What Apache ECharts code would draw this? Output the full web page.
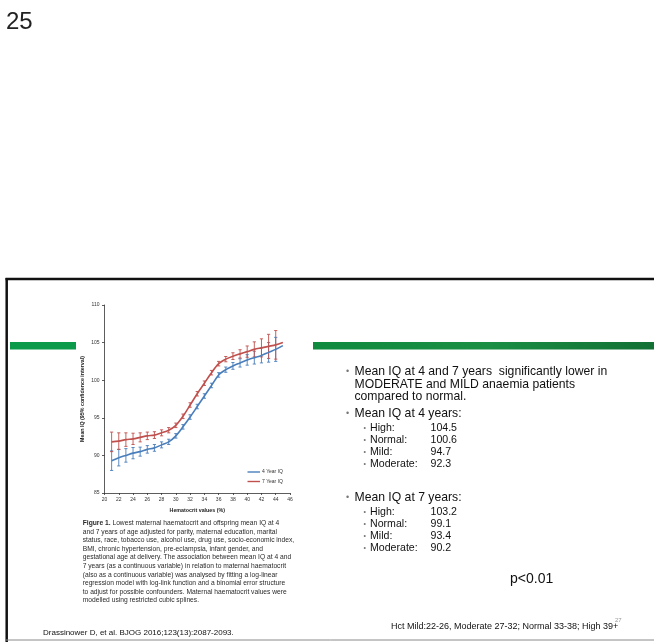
<!DOCTYPE html>
<html>
<head>
<meta charset="utf-8">
<script src="https://cdn.jsdelivr.net/npm/echarts@6/dist/echarts.min.js"></script>
<style>
  html, body { margin: 0; padding: 0; background: #fff; }
  #main { width: 654px; height: 642px; }
</style>
</head>
<body>
<div id="main"></div>
<script>
// Lowest maternal haematocrit (%) vs. adjusted mean IQ of offspring
const hct = [21, 22, 23, 24, 25, 26, 27, 28, 29, 30, 31, 32, 33, 34, 35, 36, 37, 38, 39, 40, 41, 42, 43, 44, 45];
const iq4Year = [89.3, 89.7, 90.0, 90.3, 90.5, 90.8, 91.0, 91.4, 91.8, 92.6, 93.8, 95.1, 96.5, 97.9, 99.3, 100.7, 101.4, 101.9, 102.3, 102.7, 103.0, 103.3, 103.7, 104.1, 104.6];
const iq4YearCi = [1.3, 1.1, 0.9, 0.75, 0.6, 0.5, 0.45, 0.4, 0.35, 0.3, 0.3, 0.3, 0.3, 0.3, 0.3, 0.3, 0.35, 0.45, 0.55, 0.7, 0.85, 1.0, 1.3, 1.6, null];
const iq7Year = [91.8, 91.9, 92.1, 92.2, 92.4, 92.6, 92.7, 93.0, 93.35, 94.0, 95.2, 96.7, 98.2, 99.6, 101.0, 102.2, 102.8, 103.2, 103.5, 103.8, 104.1, 104.3, 104.5, 104.7, 105.0];
const iq7YearCi = [1.3, 1.1, 0.9, 0.75, 0.6, 0.5, 0.45, 0.4, 0.35, 0.3, 0.3, 0.3, 0.3, 0.3, 0.3, 0.3, 0.35, 0.45, 0.55, 0.75, 1.0, 1.2, 1.6, 1.9, null];

const seriesNames = ['4 Year IQ', '7 Year IQ'];
const xAxisTitle = 'Hematocrit values (%)';
const yAxisTitle = 'Mean IQ (95% confidence interval)';

const captionLines = [
  '{b|Figure 1.} Lowest maternal haematocrit and offspring mean IQ at 4',
  'and 7 years of age adjusted for parity, maternal education, marital',
  'status, race, tobacco use, alcohol use, drug use, socio-economic index,',
  'BMI, chronic hypertension, pre-eclampsia, infant gender, and',
  'gestational age at delivery. The association between mean IQ at 4 and',
  '7 years (as a continuous variable) in relation to maternal haematocrit',
  '(also as a continuous variable) was analysed by fitting a log-linear',
  'regression model with log-link function and a binomial error structure',
  'to adjust for possible confounders. Maternal haematocrit values were',
  'modelled using restricted cubic splines.'
];

const introLines = [
  'Mean IQ at 4 and 7 years  significantly lower in',
  'MODERATE and MILD anaemia patients',
  'compared to normal.'
];
const groups = ['High:', 'Normal:', 'Mild:', 'Moderate:'];
const meanIq4 = ['104.5', '100.6', '94.7', '92.3'];
const meanIq7 = ['103.2', '99.1', '93.4', '90.2'];

const BLUE = '#4a7ebb';
const RED = '#c0504d';
const FIG_FONT = 'Liberation Sans, Arial, sans-serif';
const SLIDE_FONT = 'Liberation Sans, Arial, sans-serif';

const chart = echarts.init(document.getElementById('main'), null, { renderer: 'canvas' });

function ciData(values, ci) {
  const out = [];
  values.forEach((v, i) => {
    if (ci[i] != null) out.push([hct[i], v - ci[i], v + ci[i]]);
  });
  return out;
}

function errorBar(color) {
  return function (params, api) {
    const x = api.value(0);
    const lo = api.coord([x, api.value(1)]);
    const hi = api.coord([x, api.value(2)]);
    const cap = 1.6;
    const style = { stroke: color, lineWidth: 0.9 };
    return {
      type: 'group',
      children: [
        { type: 'line', shape: { x1: lo[0], y1: lo[1], x2: hi[0], y2: hi[1] }, style },
        { type: 'line', shape: { x1: lo[0] - cap, y1: lo[1], x2: lo[0] + cap, y2: lo[1] }, style },
        { type: 'line', shape: { x1: hi[0] - cap, y1: hi[1], x2: hi[0] + cap, y2: hi[1] }, style }
      ]
    };
  };
}

// slide decorations and text
const graphics = [];
graphics.push({ type: 'text', left: 6, top: 10, style: { text: '25', fontSize: 24, fontFamily: 'Liberation Sans Narrow, Arial Narrow, sans-serif', fill: '#222' } });
// slide frame
graphics.push({ type: 'line', shape: { x1: 5.5, y1: 279, x2: 660, y2: 279 }, style: { stroke: '#111', lineWidth: 2.5 } });
graphics.push({ type: 'line', shape: { x1: 6.7, y1: 278, x2: 6.7, y2: 642 }, style: { stroke: '#111', lineWidth: 2.5 } });
graphics.push({ type: 'line', shape: { x1: 6, y1: 640, x2: 660, y2: 640 }, style: { stroke: '#8a8a8a', lineWidth: 1 } });
// green title bars
graphics.push({ type: 'rect', shape: { x: 10, y: 342, width: 66, height: 7.5 }, style: { fill: '#0b9a4a' } });
graphics.push({ type: 'rect', shape: { x: 313, y: 342, width: 345, height: 7.5 },
  style: { fill: new echarts.graphic.LinearGradient(0, 0, 1, 0, [
    { offset: 0, color: '#0f8a3e' }, { offset: 0.5, color: '#1a8f44' }, { offset: 1, color: '#126f35' }]) } });

// figure caption
captionLines.forEach((line, i) => {
  graphics.push({ type: 'text', x: 82.7, y: 523.3 + i * 8.56, style: {
    text: line, fontSize: 6.7, fontFamily: FIG_FONT, fill: '#2a2a2a', verticalAlign: 'middle',
    rich: { b: { fontSize: 6.7, fontWeight: 'bold', fontFamily: FIG_FONT, fill: '#2a2a2a' } } } });
});

// bullet text on the right
function bullet(x, y, size) {
  graphics.push({ type: 'text', x: x, y: y, style: { text: '•', fontSize: size, fontFamily: SLIDE_FONT, fill: '#777', verticalAlign: 'middle' } });
}
function line(text, x, y, size, color) {
  graphics.push({ type: 'text', x: x, y: y, style: { text: text, fontSize: size, fontFamily: SLIDE_FONT, fill: color || '#111', verticalAlign: 'middle' } });
}
const MAIN_X = 354.5, MAIN_B = 346, SUB_B = 363.5, SUB_X = 370, VAL_X = 430.5;
const introY = [372, 384.5, 397];
bullet(MAIN_B, introY[0], 9);
introLines.forEach((t, i) => line(t, MAIN_X, introY[i], 12.2));

bullet(MAIN_B, 413.5, 9);
line('Mean IQ at 4 years:', MAIN_X, 413.5, 12.2);
const sub4Y = [428.5, 440.5, 452.5, 464.5];
groups.forEach((g, i) => {
  bullet(SUB_B, sub4Y[i], 7);
  line(g, SUB_X, sub4Y[i], 10.6);
  line(meanIq4[i], VAL_X, sub4Y[i], 10.6);
});

bullet(MAIN_B, 498, 9);
line('Mean IQ at 7 years:', MAIN_X, 498, 12.2);
const sub7Y = [512, 524, 535.8, 547.6];
groups.forEach((g, i) => {
  bullet(SUB_B, sub7Y[i], 7);
  line(g, SUB_X, sub7Y[i], 10.6);
  line(meanIq7[i], VAL_X, sub7Y[i], 10.6);
});

line('p<0.01', 510, 579.5, 14);
line('27', 615, 620.8, 6, '#999');
line('Hct Mild:22-26, Moderate 27-32; Normal 33-38; High 39+', 391, 626.8, 9.0);
line('Drassinower D, et al. BJOG 2016;123(13):2087-2093.', 43, 632.3, 8);

const option = {
  backgroundColor: '#fff',
  animation: false,
  textStyle: { fontFamily: FIG_FONT },
  grid: { left: 104.5, top: 305, width: 185.5, height: 188, containLabel: false },
  legend: {
    data: seriesNames,
    orient: 'vertical',
    left: 247.5,
    top: 469.5,
    icon: 'rect',
    itemWidth: 12.5,
    itemHeight: 1.4,
    itemGap: 4.5,
    textStyle: { fontSize: 5, color: '#333', fontFamily: FIG_FONT, padding: [0, 0, 0, -3] },
    padding: 0
  },
  xAxis: {
    type: 'value',
    min: 20, max: 46, interval: 2,
    name: xAxisTitle,
    nameLocation: 'middle',
    nameGap: 15,
    nameTextStyle: { fontSize: 5.3, fontWeight: 'bold', color: '#222' },
    axisLine: { lineStyle: { color: '#333', width: 0.8 } },
    axisTick: { length: 2, lineStyle: { color: '#333', width: 0.8 } },
    axisLabel: { fontSize: 5, color: '#333', margin: 4 },
    splitLine: { show: false }
  },
  yAxis: {
    type: 'value',
    min: 85, max: 110, interval: 5,
    name: yAxisTitle,
    nameLocation: 'middle',
    nameGap: 19.5,
    nameRotate: 90,
    nameTextStyle: { fontSize: 5.3, fontWeight: 'bold', color: '#222' },
    axisLine: { show: true, lineStyle: { color: '#333', width: 0.8 } },
    axisTick: { show: true, length: 2.5, lineStyle: { color: '#333', width: 0.8 } },
    axisLabel: { fontSize: 5, color: '#333', margin: 5 },
    splitLine: { show: false }
  },
  series: [
    { name: seriesNames[0] + ' CI', type: 'custom', renderItem: errorBar(BLUE), data: ciData(iq4Year, iq4YearCi), z: 2, silent: true },
    { name: seriesNames[1] + ' CI', type: 'custom', renderItem: errorBar(RED), data: ciData(iq7Year, iq7YearCi), z: 2, silent: true },
    { name: seriesNames[0], type: 'line', data: hct.map((x, i) => [x, iq4Year[i]]), smooth: 0.3, showSymbol: false,
      lineStyle: { color: BLUE, width: 1.6 }, itemStyle: { color: BLUE }, z: 3 },
    { name: seriesNames[1], type: 'line', data: hct.map((x, i) => [x, iq7Year[i]]), smooth: 0.3, showSymbol: false,
      lineStyle: { color: RED, width: 1.6 }, itemStyle: { color: RED }, z: 3 }
  ],
  graphic: graphics
};

chart.setOption(option);
</script>
</body>
</html>
